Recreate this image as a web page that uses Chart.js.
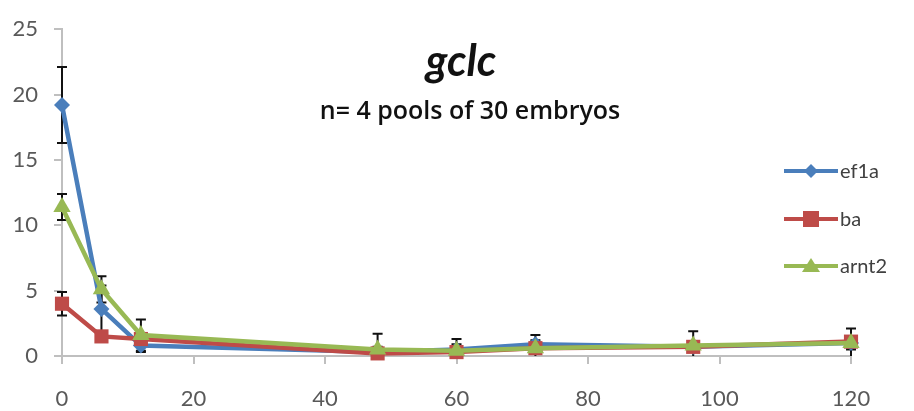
<!DOCTYPE html>
<html lang="en">
<head>
    <meta charset="UTF-8">
    <title>gclc</title>
    <script src="https://cdn.jsdelivr.net/npm/chart.js@4.4.0/dist/chart.umd.min.js"></script>
    <style>
        body { margin: 0; background: #fff; }
        #wrap { width: 914px; height: 411px; }
    </style>
</head>
<body>
    <div id="wrap"><canvas id="myChart"></canvas></div>

<script>
    // data (hours post treatment)
    const hours = [0, 6, 12, 48, 60, 72, 96, 120];
    const ef1a = [19.2, 3.6, 0.8, 0.3, 0.5, 0.9, 0.7, 1.0];
    const ba = [4.0, 1.5, 1.3, 0.2, 0.3, 0.6, 0.7, 1.1];
    const arnt2 = [11.4, 5.1, 1.6, 0.5, 0.4, 0.6, 0.8, 1.0];
    // error bar half-lengths
    const ef1aErr = [2.9, 1.8, 0.5, 0.4, 0.4, 0.7, 0.4, 0.5];
    const baErr = [0.9, 0.3, 0.3, 0.3, 0.3, 0.3, 0.3, 0.3];
    const arnt2Err = [1.0, 1.0, 1.2, 1.2, 0.9, 0.6, 1.1, 1.1];
    const xTicks = [0, 20, 40, 60, 80, 100, 120];
    const yTicks = [0, 5, 10, 15, 20, 25];

    const blue = '#4a7ebb', red = '#be4b48', green = '#98b954';
    const font = 'Lato, "Open Sans", sans-serif';

    function pts(vals) {
        return hours.map((h, i) => ({ x: h, y: vals[i] }));
    }

    // error bars drawn under the lines
    const errorBars = {
        id: 'errorBars',
        beforeDatasetsDraw(chart) {
            const { ctx, scales } = chart;
            ctx.save();
            ctx.strokeStyle = '#111';
            ctx.lineWidth = 2;
            chart.data.datasets.forEach(ds => {
                ds.data.forEach((p, i) => {
                    const e = ds.err[i];
                    const x = scales.x.getPixelForValue(p.x);
                    const top = scales.y.getPixelForValue(p.y + e);
                    const bot = scales.y.getPixelForValue(Math.max(0, p.y - e));
                    ctx.beginPath();
                    ctx.moveTo(x, top); ctx.lineTo(x, bot);
                    ctx.moveTo(x - 5, top); ctx.lineTo(x + 5, top);
                    if (p.y - e > 0) { ctx.moveTo(x - 5, bot); ctx.lineTo(x + 5, bot); }
                    ctx.stroke();
                });
            });
            ctx.restore();
        }
    };

    // titles and legend sit inside the plot, like the original
    const overlay = {
        id: 'overlay',
        afterDraw(chart) {
            const ctx = chart.ctx;
            ctx.save();
            ctx.fillStyle = '#111';
            ctx.textAlign = 'center';
            ctx.textBaseline = 'alphabetic';
            ctx.font = 'italic bold 43px ' + font;
            ctx.fillText('gclc', 461, 76);
            ctx.font = '600 25px "Open Sans", ' + font;
            ctx.fillText('n= 4 pools of 30 embryos', 470, 119);

            const rows = [171, 219, 266];
            chart.data.datasets.forEach((ds, i) => {
                const y = rows[i];
                ctx.strokeStyle = ds.borderColor;
                ctx.lineWidth = 4;
                ctx.beginPath();
                ctx.moveTo(784, y); ctx.lineTo(838, y);
                ctx.stroke();
                ctx.fillStyle = ds.borderColor;
                ctx.beginPath();
                if (ds.pointStyle === 'rectRot') {
                    ctx.moveTo(811, y - 7); ctx.lineTo(818, y); ctx.lineTo(811, y + 7); ctx.lineTo(804, y);
                } else if (ds.pointStyle === 'rect') {
                    ctx.rect(803, y - 8, 16, 16);
                } else {
                    ctx.moveTo(811, y - 8); ctx.lineTo(820, y + 6); ctx.lineTo(802, y + 6);
                }
                ctx.closePath();
                ctx.fill();
                ctx.fillStyle = '#404040';
                ctx.textAlign = 'left';
                ctx.textBaseline = 'middle';
                ctx.font = '20px ' + font;
                ctx.fillText(ds.label, 840, y + 1);
            });
            ctx.restore();
        }
    };

    const ctx = document.getElementById('myChart').getContext('2d');
    const myChart = new Chart(ctx, {
        type: 'line',
        data: {
            datasets: [{
                label: 'ef1a',
                data: pts(ef1a),
                err: ef1aErr,
                borderColor: blue,
                backgroundColor: blue,
                pointStyle: 'rectRot',
                pointRadius: 8,
                clip: false,
                order: 3
            }, {
                label: 'ba',
                data: pts(ba),
                err: baErr,
                borderColor: red,
                backgroundColor: red,
                pointStyle: 'rect',
                pointRadius: 10,
                clip: false,
                order: 2
            }, {
                label: 'arnt2',
                data: pts(arnt2),
                err: arnt2Err,
                borderColor: green,
                backgroundColor: green,
                pointStyle: 'triangle',
                pointRadius: 10,
                clip: false,
                order: 1
            }]
        },
        options: {
            responsive: true,
            maintainAspectRatio: false,
            animation: false,
            elements: { line: { borderWidth: 4.5, tension: 0 }, point: { borderWidth: 0 } },
            layout: { padding: { left: 0, right: 63, top: 24, bottom: 0 } },
            plugins: { legend: { display: false }, tooltip: { enabled: false } },
            scales: {
                x: {
                    type: 'linear',
                    min: 0,
                    max: 120,
                    afterBuildTicks: s => { s.ticks = xTicks.map(v => ({ value: v })); },
                    afterFit: s => { s.height = 55; },
                    grid: { drawOnChartArea: false, drawTicks: true, tickLength: 8, color: '#bfbfbf', lineWidth: 2 },
                    border: { color: '#bfbfbf', width: 2 },
                    ticks: { color: '#595959', font: { family: font, size: 22 }, padding: 22 }
                },
                y: {
                    min: 0,
                    max: 25,
                    afterBuildTicks: s => { s.ticks = yTicks.map(v => ({ value: v })); },
                    afterFit: s => { s.width = 62; },
                    grid: { drawOnChartArea: false, drawTicks: true, tickLength: 8, color: '#bfbfbf', lineWidth: 2 },
                    border: { color: '#bfbfbf', width: 2 },
                    ticks: { color: '#595959', font: { family: font, size: 22 }, padding: 16 }
                }
            }
        },
        plugins: [errorBars, overlay]
    });
</script>
</body>
</html>
